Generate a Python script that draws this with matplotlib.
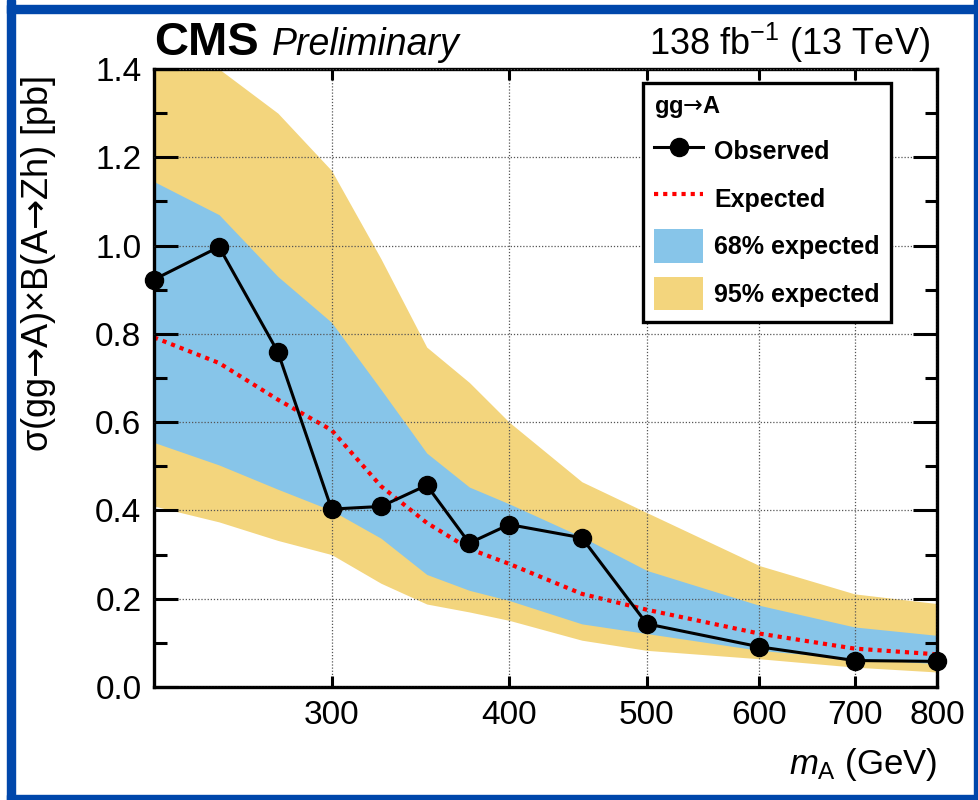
import numpy as np
import matplotlib
matplotlib.use("Agg")
from matplotlib import pyplot as plt
from matplotlib.patches import Rectangle
from matplotlib.ticker import FixedLocator, NullLocator, MultipleLocator, FormatStrFormatter

plt.rcParams['font.family'] = ['Liberation Sans', 'DejaVu Sans']
plt.rcParams['mathtext.fontset'] = 'custom'
plt.rcParams['mathtext.rm'] = 'Liberation Sans'
plt.rcParams['mathtext.it'] = 'Liberation Sans:italic'
plt.rcParams['mathtext.bf'] = 'Liberation Sans:bold'
plt.rcParams['mathtext.sf'] = 'DejaVu Sans'   # only used for the arrows

### DATA ###
mass = [225, 250, 275, 300, 325, 350, 375, 400, 450, 500, 600, 700, 800]
observed = [0.923, 0.997, 0.759, 0.403, 0.409, 0.457, 0.326, 0.368, 0.338, 0.143, 0.091, 0.060, 0.058]
expected = [0.792, 0.734, 0.651, 0.582, 0.455, 0.372, 0.313, 0.279, 0.211, 0.175, 0.121, 0.087, 0.074]
up95 = [1.55, 1.40, 1.30, 1.17, 0.97, 0.77, 0.69, 0.60, 0.465, 0.395, 0.275, 0.211, 0.189]
up68 = [1.145, 1.07, 0.93, 0.826, 0.674, 0.53, 0.453, 0.415, 0.34, 0.264, 0.185, 0.136, 0.117]
lo68 = [0.554, 0.503, 0.448, 0.40, 0.337, 0.255, 0.219, 0.196, 0.143, 0.121, 0.083, 0.064, 0.053]
lo95 = [0.41, 0.374, 0.332, 0.30, 0.235, 0.188, 0.17, 0.151, 0.106, 0.083, 0.064, 0.045, 0.034]
xticks = [300, 400, 500, 600, 700, 800]

ARROW = r'$\mathsf{→}$'

### COLOURS ###
c95 = '#F3D57D'
c68 = '#87C5E9'
frame_blue = '#0047AB'

fig = plt.figure(figsize=(9.79, 8.0), dpi=100)
ax = fig.add_axes([154/979, 113/800, 783/979, 618/800])

ax.fill_between(mass, lo95, up95, color=c95, lw=0, label='95% expected')
ax.fill_between(mass, lo68, up68, color=c68, lw=0, label='68% expected')
ax.plot(mass, expected, color='red', ls=(0, (1, 1.2)), lw=3, label='Expected')
ax.plot(mass, observed, color='black', lw=2.2, marker='o', ms=13, label='Observed',
        clip_on=False, zorder=5)

ax.set_xscale('log')
ax.set_xlim(225, 800)
ax.set_ylim(0, 1.4)
ax.xaxis.set_major_locator(FixedLocator(xticks))
ax.xaxis.set_minor_locator(NullLocator())
ax.set_xticklabels([str(t) for t in xticks])
ax.yaxis.set_major_locator(MultipleLocator(0.2))
ax.yaxis.set_minor_locator(MultipleLocator(0.1))
ax.yaxis.set_major_formatter(FormatStrFormatter('%.1f'))

ax.grid(True, which='major', color='#555555', ls=(0, (1, 1.5)), lw=0.9)
ax.set_axisbelow(False)
for sp in ax.spines.values():
    sp.set_linewidth(2.4)
ax.tick_params(axis='both', which='both', direction='in', top=True, right=True,
               labelsize=24, width=2.2)
ax.tick_params(axis='y', which='major', length=17, pad=9)
ax.tick_params(axis='y', which='minor', length=9)
ax.tick_params(axis='x', which='major', length=8, pad=9)

ax.set_ylabel('σ(gg' + ARROW + 'A)×B(A' + ARROW + 'Zh) [pb]', fontsize=26, loc='top')
ax.yaxis.set_label_coords(-0.122, 0.99)
ax.set_xlabel('$m_{\\mathrm{A}}$ (GeV)', fontsize=25, loc='right')
ax.xaxis.set_label_coords(1.0, -0.095)

# top labels
ax.text(0.0, 1.023, 'CMS', transform=ax.transAxes, fontsize=34, fontweight='bold',
        ha='left', va='baseline')
ax.text(0.151, 1.023, 'Preliminary', transform=ax.transAxes, fontsize=27,
        style='italic', ha='left', va='baseline')
ax.text(0.991, 1.023, '138 fb$^{-1}$ (13 TeV)', transform=ax.transAxes, fontsize=26,
        ha='right', va='baseline')

# legend
h, l = ax.get_legend_handles_labels()
order = [3, 2, 1, 0]
leg = ax.legend([h[i] for i in order], [l[i] for i in order], title='gg' + ARROW + 'A',
                loc='upper left', bbox_to_anchor=(0.6245, 0.977), borderaxespad=0,
                fancybox=False, framealpha=1, edgecolor='black',
                prop={'weight': 'bold', 'size': 18}, handlelength=1.95,
                handleheight=1.7, labelspacing=0.55, borderpad=0.45,
                handletextpad=0.45)
leg.get_frame().set_linewidth(2.4)
leg.get_title().set_fontweight('bold')
leg.get_title().set_fontsize(17)
leg._legend_box.align = 'left'
leg.set_zorder(10)

# blue frame around the picture
for (x0, y0, w, hgt) in [(7, 0, 8, 800), (7, 5, 972, 8), (974, 0, 5, 800), (7, 795, 972, 5)]:
    fig.patches.append(Rectangle((x0/979, 1 - (y0 + hgt)/800), w/979, hgt/800,
                                 transform=fig.transFigure, color=frame_blue, zorder=20))

fig.savefig('out.png', dpi=100)
